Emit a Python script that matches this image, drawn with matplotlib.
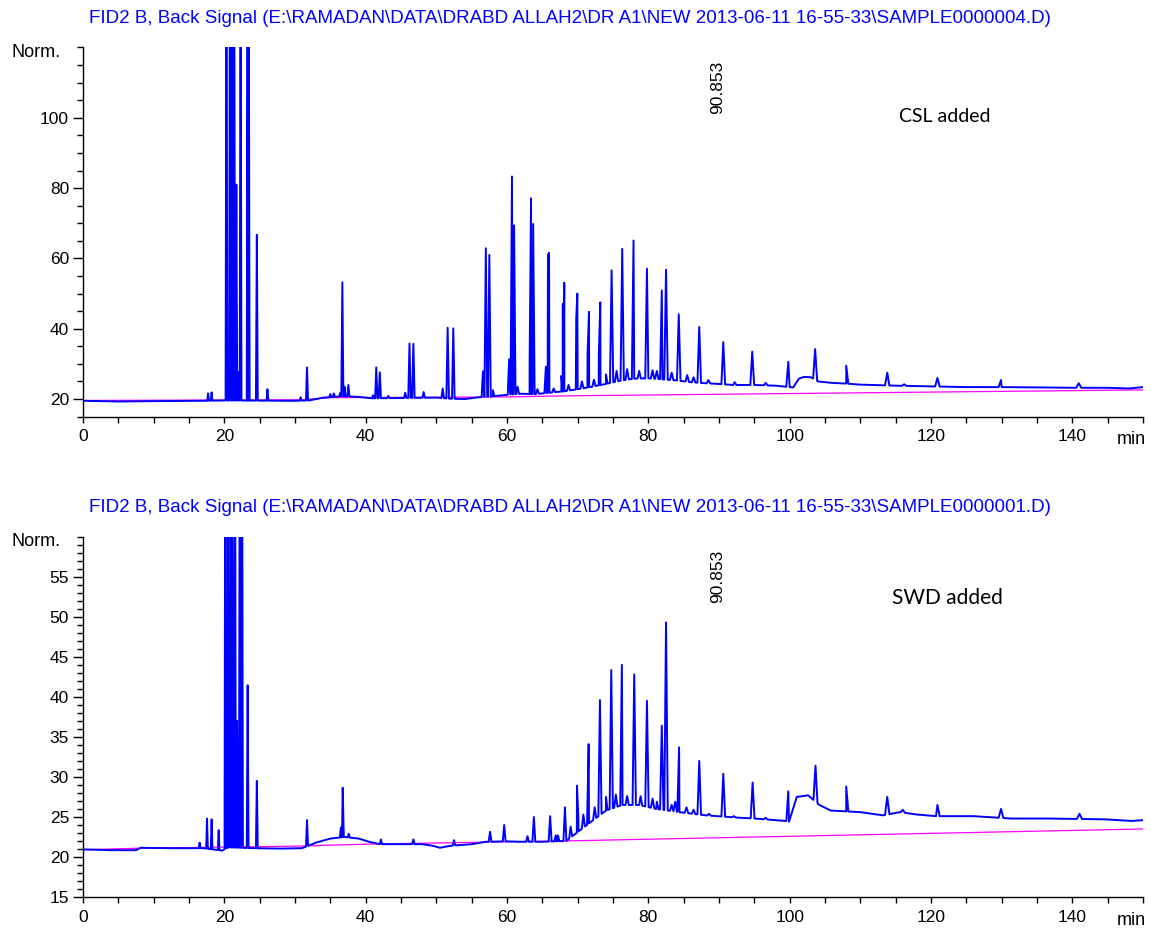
import numpy as np
import matplotlib
matplotlib.use("Agg")
import matplotlib.pyplot as plt
from matplotlib.ticker import FixedLocator

plt.rcParams["font.family"] = ["Liberation Sans", "DejaVu Sans"]

BLUE, MAGENTA = "#0000FF", "#FF00FF"

# ── Top run: SAMPLE0000004 (CSL added) ───────────────────────────────────────
top_base_t = [0, 5, 10, 17, 20, 30, 32, 34, 37, 39, 41, 45, 50, 52, 54, 56, 58,
              60, 62, 64, 66, 68, 70, 72, 74, 76, 78, 80, 82, 84, 86, 88, 90,
              92, 95, 98, 100, 100.5, 101.3, 102, 103, 104, 106, 108, 110, 115,
              120, 125, 130, 135, 140, 145, 148, 150]
top_base_v = [19.5, 19.3, 19.4, 19.5, 19.6, 19.5, 19.6, 20.4, 20.8, 20.6, 20.2,
              20.3, 20.4, 20.1, 20.0, 20.5, 20.8, 21.2, 21.5, 21.4, 21.8, 22.2,
              22.8, 23.5, 24.3, 25.2, 25.8, 25.9, 25.6, 25.3, 24.8, 24.5, 24.3,
              24.0, 24.0, 23.8, 23.4, 23.3, 25.8, 26.3, 26.2, 25.0, 24.6, 24.4,
              24.1, 23.8, 23.6, 23.4, 23.4, 23.3, 23.2, 23.2, 23.0, 23.4]
top_peak_t = [17.7, 18.2, 20.3, 20.8, 21.1, 21.4, 21.7, 22.0, 22.3, 23.3, 23.45,
              24.6, 26.1, 30.8, 31.7, 35.0, 35.5, 36.4, 36.7, 37.0, 37.55, 41.0,
              41.5, 42.0, 43.2, 45.6, 46.2, 46.75, 48.2, 50.9, 51.6, 52.4, 56.6,
              57.0, 57.5, 58.0, 60.3, 60.7, 61.0, 61.5, 63.2, 63.4, 63.7, 64.3,
              65.5, 65.8, 65.95, 66.6, 67.7, 67.9, 68.1, 68.7, 69.8, 69.95, 70.6,
              71.4, 71.6, 72.3, 73.0, 73.2, 74.0, 74.8, 75.5, 76.3, 77.0, 77.9,
              78.7, 79.8, 80.6, 81.2, 81.9, 82.5, 83.3, 84.3, 85.5, 86.4, 87.2,
              88.5, 90.6, 92.2, 94.7, 96.6, 99.8, 103.6, 108.0, 113.8, 116.2,
              120.9, 129.9, 140.9]
top_peak_v = [21.6, 21.9, 160, 170, 160, 150, 81, 27.7, 150, 160, 150,
              66.7, 22.8, 20.5, 29.0, 21.4, 21.6, 21.8, 53.2, 23.5, 24.0, 21.1,
              29.0, 27.6, 20.9, 21.8, 35.8, 35.7, 22.0, 23.0, 40.3, 40.1, 27.9,
              62.9, 61.0, 22.5, 31.3, 83.3, 69.4, 23.5, 30.9, 77.1, 69.8, 22.8,
              29.2, 61.0, 61.6, 23.0, 26.6, 47.1, 53.1, 24.0, 43.4, 50.0, 25.0,
              33.0, 44.8, 25.5, 33.4, 47.5, 27.0, 56.6, 28.0, 62.7, 28.5, 65.1,
              28.0, 57.1, 28.2, 28.0, 50.9, 56.8, 27.5, 44.1, 26.8, 26.2, 40.5,
              25.4, 36.2, 24.8, 33.5, 24.6, 30.6, 34.2, 29.5, 27.5, 24.2,
              26.0, 25.4, 24.5]
top_ref_t = [0, 31, 35, 60, 68, 150]
top_ref_v = [19.6, 19.8, 20.4, 20.6, 20.9, 22.6]

# ── Bottom run: SAMPLE0000001 (SWD added) ────────────────────────────────────
bot_base_t = [0, 4, 7.5, 8.2, 12, 17, 19.7, 20.5, 24, 28, 31, 33, 35, 37, 39,
              40.5, 42, 45, 48, 49.5, 50.5, 52, 55, 57, 60, 62, 65, 68.4, 68.8,
              71.6, 74.0, 76.35, 78.7, 81.1, 84.4, 88.1, 92.9, 95.1, 99.4, 99.9,
              101.0, 102.6, 104.2, 105.8, 108, 110, 113.2, 115.6, 118, 120.7,
              126, 131.4, 136.7, 144.7, 148.4, 150]
bot_base_v = [20.95, 20.85, 20.85, 21.15, 21.1, 21.1, 20.8, 21.2, 21.1, 21.05,
              21.1, 21.8, 22.3, 22.5, 22.3, 21.9, 21.6, 21.6, 21.6, 21.4, 21.15,
              21.4, 21.6, 21.9, 21.95, 21.9, 21.9, 22.0, 22.3, 24.2, 25.8, 26.5,
              26.5, 26.0, 25.6, 25.2, 24.9, 24.8, 24.5, 24.4, 27.5, 27.7, 26.5,
              25.8, 25.7, 25.6, 25.2, 25.6, 25.3, 25.1, 25.1, 24.8, 24.8, 24.7,
              24.5, 24.6]
bot_peak_t = [16.5, 17.55, 18.2, 19.2, 20.15, 20.5, 20.6, 20.9, 21.1, 21.5,
              21.8, 22.2, 22.5, 23.3, 24.6, 31.7, 36.5, 36.75, 37.6, 42.15,
              46.75, 52.5, 57.6, 59.6, 62.9, 63.8, 66.1, 66.9, 67.2, 68.2, 69.0,
              69.9, 70.1, 70.8, 71.55, 72.4, 73.15, 74.0, 74.75, 75.4, 76.25,
              77.0, 78.0, 78.9, 79.8, 80.6, 81.2, 81.9, 82.5, 83.3, 83.8, 84.35,
              85.4, 86.4, 87.2, 88.6, 90.6, 92.1, 94.75, 96.6, 99.8, 103.65,
              108.0, 113.8, 116.0, 120.9, 129.9, 141.0]
bot_peak_v = [21.8, 24.8, 24.7, 23.35, 90, 80, 31.2, 90, 85, 90,
              37.0, 90, 85, 41.45, 29.5, 24.6, 23.7, 28.65, 22.9, 22.2,
              22.2, 22.1, 23.15, 24.0, 22.6, 25.0, 25.1, 22.7, 22.7, 26.2, 23.8,
              28.9, 25.0, 25.3, 34.1, 26.2, 39.6, 27.5, 43.35, 27.8, 44.0,
              27.6, 42.8, 27.6, 39.5, 27.3, 26.9, 36.4, 49.3, 26.5, 26.9, 33.7,
              26.2, 25.9, 32.0, 25.4, 30.4, 25.1, 29.3, 24.9, 28.2, 31.4,
              28.8, 27.5, 25.9, 26.5, 26.0, 25.4]
bot_ref_t = [0, 8, 30, 40, 60, 68, 150]
bot_ref_v = [20.9, 21.1, 21.35, 21.6, 21.9, 22.0, 23.5]

TITLE_DIR = r"E:\RAMADAN\DATA\DRABD ALLAH2\DR A1\NEW 2013-06-11 16-55-33"
TOP_TITLE = f"FID2 B, Back Signal ({TITLE_DIR}\\SAMPLE0000004.D)"
BOT_TITLE = f"FID2 B, Back Signal ({TITLE_DIR}\\SAMPLE0000001.D)"
PEAK_LABEL = "90.853"


def build_trace(base_t, base_v, peak_t, peak_v):
    """Baseline points plus a narrow triangular spike for every peak."""
    t = list(base_t)
    v = list(base_v)
    for pt, pv in zip(peak_t, peak_v):
        hw = 0.08 + 0.002 * pt          # later peaks come out a little wider
        for dt in (-hw, hw):
            t.append(pt + dt)
            v.append(float(np.interp(pt + dt, base_t, base_v)))
        t.append(pt)
        v.append(pv)
    order = np.argsort(t, kind="stable")
    return np.asarray(t)[order], np.asarray(v)[order]


def style_axes(ax, ylim, major, minor):
    ax.set_xlim(0, 150)
    ax.set_ylim(*ylim)
    ax.spines[["top", "right"]].set_visible(False)
    ax.spines[["left", "bottom"]].set_linewidth(1.0)
    ax.set_xticks(np.arange(0, 141, 20))
    ax.xaxis.set_minor_locator(FixedLocator(np.arange(0, 151, 5)))
    ax.yaxis.set_major_locator(FixedLocator(major))
    ax.yaxis.set_minor_locator(FixedLocator(minor))
    ax.tick_params(axis="x", which="both", direction="out", length=4,
                   width=1, labelsize=12.5, pad=5)
    ax.tick_params(axis="y", which="major", direction="out", length=7,
                   width=1, labelsize=12.5, pad=3)
    ax.tick_params(axis="y", which="minor", direction="out", length=4, width=1)


fig = plt.figure(figsize=(11.51, 9.31), dpi=100, facecolor="white")
ax1 = fig.add_axes([0.0721, 0.5525, 0.9210, 0.3965])
ax2 = fig.add_axes([0.0721, 0.0365, 0.9210, 0.3870])

for ax, bt, bv, pt, pv, rt, rv in [
    (ax1, top_base_t, top_base_v, top_peak_t, top_peak_v, top_ref_t, top_ref_v),
    (ax2, bot_base_t, bot_base_v, bot_peak_t, bot_peak_v, bot_ref_t, bot_ref_v),
]:
    tt, vv = build_trace(bt, bv, pt, pv)
    ax.plot(rt, rv, color=MAGENTA, linewidth=0.9, zorder=2)
    ax.plot(tt, vv, color=BLUE, linewidth=1.4, zorder=3)

style_axes(ax1, (15, 120), [20, 40, 60, 80, 100], np.arange(15, 121, 5))
style_axes(ax2, (15, 60), np.arange(15, 56, 5), np.arange(15, 61, 1))

# titles, axis captions and annotations
fig.text(0.0773, 0.9796, TOP_TITLE, color=BLUE, fontsize=13.5, va="center")
fig.text(0.0773, 0.4544, BOT_TITLE, color=BLUE, fontsize=13.5, va="center")
fig.text(0.0104, 0.9440, "Norm.", fontsize=13, va="center")
fig.text(0.0104, 0.4180, "Norm.", fontsize=13, va="center")
fig.text(0.9955, 0.5274, "min", fontsize=13, va="center", ha="right")
fig.text(0.9955, 0.0118, "min", fontsize=13, va="center", ha="right")

for ax, yfrac in [(ax1, 0.82), (ax2, 0.816)]:
    ax.text(90.853, yfrac, PEAK_LABEL, transform=ax.get_xaxis_transform(),
            rotation=90, ha="right", va="bottom", fontsize=12.5)

ax1.text(115.5, 0.813, "CSL added", transform=ax1.get_xaxis_transform(),
         family=["Lato", "DejaVu Sans"], fontsize=14, va="center")
ax2.text(114.5, 0.831, "SWD added", transform=ax2.get_xaxis_transform(),
         family=["Lato", "DejaVu Sans"], fontsize=15, va="center")

fig.savefig("out.png", dpi=100, facecolor="white")
